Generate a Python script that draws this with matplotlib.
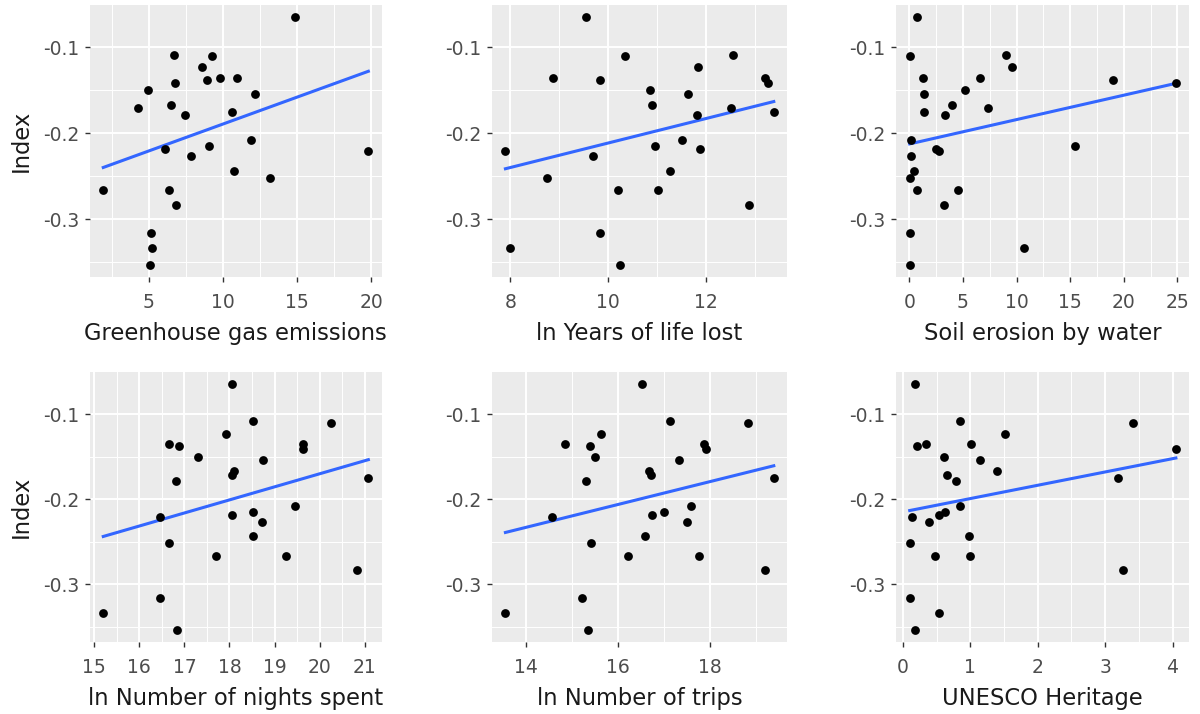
import numpy as np
import matplotlib
matplotlib.use("Agg")
import matplotlib.pyplot as plt
from matplotlib.ticker import MultipleLocator

# shared response (Index), one value per country
index = [-0.065, -0.1085, -0.110, -0.123, -0.1356, -0.1356, -0.1375, -0.141,
         -0.150, -0.154, -0.167, -0.171, -0.1747, -0.179, -0.208, -0.215,
         -0.2188, -0.2207, -0.2265, -0.2435, -0.2516, -0.266, -0.266, -0.283,
         -0.316, -0.334, -0.353]

# predictors, same country order as index
ghg = [14.87, 6.71, 9.27, 8.58, 9.78, 10.93, 8.93, 6.78, 4.91, 12.13, 6.51, 4.29,
       10.6, 7.4, 11.9, 9.07, 6.09, 19.82, 7.84, 10.73, 13.2, 1.91, 6.36, 6.8,
       5.13, 5.22, 5.04]
yll = [9.55, 12.55, 10.35, 11.83, 8.88, 13.21, 9.84, 13.26, 10.86, 11.63, 10.89,
       12.5, 13.38, 11.81, 11.51, 10.96, 11.87, 7.9, 9.69, 11.26, 8.74, 10.19,
       11.01, 12.87, 9.83, 7.99, 10.24]
soil = [0.71, 9.04, 0.09, 9.54, 1.24, 6.59, 18.98, 24.86, 5.2, 1.39, 4.02, 7.37,
        1.39, 3.34, 0.12, 15.42, 2.5, 2.72, 0.12, 0.43, 0.03, 0.71, 4.52, 3.19,
        0.09, 10.71, 0.06]
nights = [18.06, 18.52, 20.25, 17.93, 16.65, 19.62, 16.89, 19.63, 17.3, 18.75,
          18.1, 18.06, 21.08, 16.81, 19.46, 18.52, 18.06, 16.45, 18.73, 18.52,
          16.65, 17.69, 19.26, 20.82, 16.45, 15.2, 16.84]
trips = [16.51, 17.13, 18.83, 15.62, 14.85, 17.86, 15.39, 17.91, 15.5, 17.32,
         16.66, 16.72, 19.38, 15.3, 17.59, 16.99, 16.73, 14.57, 17.49, 16.59,
         15.41, 16.22, 17.75, 19.18, 15.22, 13.55, 15.34]
unesco = [0.18, 0.85, 3.42, 1.52, 0.34, 1.01, 0.21, 4.05, 0.61, 1.15, 1.4, 0.65,
          3.19, 0.78, 0.85, 0.62, 0.53, 0.13, 0.39, 0.98, 0.1, 0.47, 1.0, 3.27,
          0.1, 0.53, 0.18]

xlabels = ["Greenhouse gas emissions", "ln Years of life lost", "Soil erosion by water",
           "ln Number of nights spent", "ln Number of trips", "UNESCO Heritage"]
xmajor = [5, 2, 5, 1, 2, 1]
predictors = [ghg, yll, soil, nights, trips, unesco]

plt.rcParams['font.family'] = ['DejaVu Sans']

fig = plt.figure(figsize=(12, 7.14), dpi=100)

# panel boxes in figure fractions [left, bottom, width, height]
lefts = [0.075, 0.410, 0.747]
widths = [0.243, 0.246, 0.244]
bottoms = [0.612, 0.101]
heights = [0.381, 0.378]

y = np.array(index)
for i, (x, lab, step) in enumerate(zip(predictors, xlabels, xmajor)):
    r, c = divmod(i, 3)
    ax = fig.add_axes([lefts[c], bottoms[r], widths[c], heights[r]])
    x = np.array(x)
    ax.set_facecolor('#EBEBEB')
    for s in ax.spines.values():
        s.set_visible(False)

    ax.scatter(x, y, s=40, color='black', zorder=3, linewidths=0)
    b, a = np.polyfit(x, y, 1)
    xs = np.array([x.min(), x.max()])
    ax.plot(xs, a + b * xs, color='#3366FF', lw=2.2, zorder=2)

    ax.margins(0.05)
    ax.xaxis.set_major_locator(MultipleLocator(step))
    ax.xaxis.set_minor_locator(MultipleLocator(step / 2))
    ax.yaxis.set_major_locator(MultipleLocator(0.1))
    ax.yaxis.set_minor_locator(MultipleLocator(0.05))
    ax.yaxis.set_major_formatter(plt.FuncFormatter(lambda v, p: f"{v:.1f}"))
    ax.grid(which='major', color='white', lw=1.4)
    ax.grid(which='minor', color='white', lw=0.7)
    ax.set_axisbelow(True)
    ax.tick_params(which='major', length=3.5, width=1, color='#333333',
                   labelsize=13.5, labelcolor='#4D4D4D')
    ax.tick_params(axis='x', pad=8)
    ax.tick_params(axis='y', pad=4.5)
    ax.tick_params(which='minor', length=0)
    ax.set_xlabel(lab, fontsize=16.3, color='#1A1A1A', labelpad=7)
    if c == 0:
        ax.set_ylabel("Index", fontsize=16.3, color='#1A1A1A', labelpad=7)

fig.savefig("out.png", dpi=100, facecolor='white')
